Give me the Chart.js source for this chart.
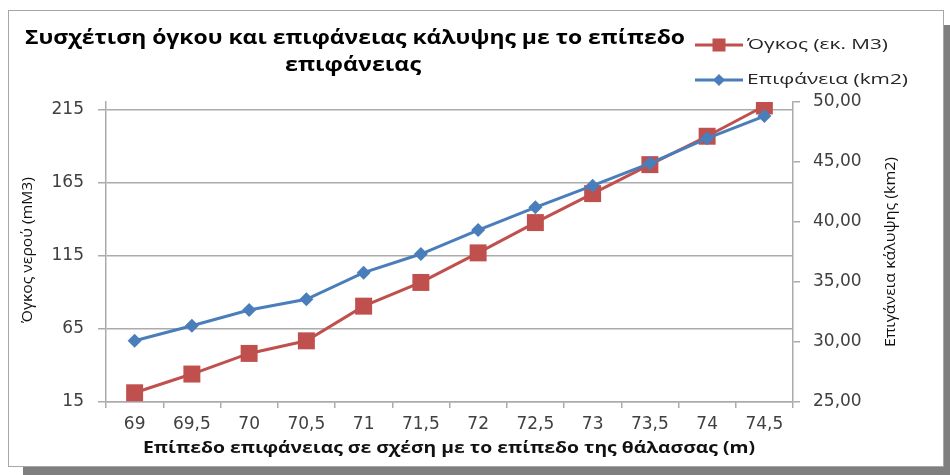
<!DOCTYPE html>
<html>
<head>
<meta charset="utf-8">
<script src="https://cdn.jsdelivr.net/npm/chart.js@4"></script>
<style>
  html, body { margin: 0; padding: 0; background: #fff; overflow: hidden; }
  #frame {
    position: absolute; left: 8px; top: 10px; width: 936px; height: 457px;
    box-sizing: border-box; border: 1px solid #a6a6a6; background: #fff;
    box-shadow: 15px 15px 0 #7f7f7f;
  }
  #chart { position: absolute; left: 0; top: 0; }
</style>
</head>
<body>
<div id="frame"></div>
<canvas id="chart" width="950" height="475"></canvas>
<script>
// water level above sea level (m)
const levels = ['69', '69,5', '70', '70,5', '71', '71,5', '72', '72,5', '73', '73,5', '74', '74,5'];
// volume, million m3 (left axis)
const volume = [21.3, 34.1, 48.2, 56.8, 80.5, 96.7, 116.9, 137.6, 157.4, 177.2, 196.6, 217.3];
// surface area, km2 (right axis)
const area = [30.1, 31.36, 32.67, 33.56, 35.78, 37.33, 39.33, 41.22, 43.03, 44.89, 46.97, 48.83];
const volumeTicks = [15, 65, 115, 165, 215];

const titleLines = ['Συσχέτιση όγκου και επιφάνειας κάλυψης με το επίπεδο', 'επιφάνειας'];
const xTitle = 'Επίπεδο επιφάνειας σε σχέση με το επίπεδο της θάλασσας (m)';
const yLeftTitle = 'Όγκος νερού (mM3)';
const yRightTitle = 'Επιγάνεια κάλυψης (km2)';
const volumeLabel = 'Όγκος (εκ. M3)';
const areaLabel = 'Επιφάνεια (km2)';

const RED = '#c0504d';
const BLUE = '#4a7ebb';
const GRID = '#ababab';
const TICK_FONT = { family: 'DejaVu Sans', size: 17 };

// text squeezed/stretched horizontally so it spans a given width
function fitText(ctx, text, cx, cy, width, font, color, angle) {
  ctx.save();
  ctx.font = font;
  ctx.fillStyle = color;
  ctx.textAlign = 'center';
  ctx.textBaseline = 'middle';
  const w = ctx.measureText(text).width;
  ctx.translate(cx, cy);
  if (angle) ctx.rotate(angle);
  ctx.scale(width / w, 1);
  ctx.fillText(text, 0, 0);
  ctx.restore();
}

const decorations = {
  id: 'decorations',
  afterDraw(chart) {
    const ctx = chart.ctx;
    fitText(ctx, titleLines[0], 355, 39, 660, 'bold 19px "Open Sans"', '#000');
    fitText(ctx, titleLines[1], 353, 66, 136, 'bold 19px "Open Sans"', '#000');
    fitText(ctx, xTitle, 449, 448, 612, 'bold 16px "Open Sans"', '#111');
    fitText(ctx, yLeftTitle, 28, 250, 146, '15px "Open Sans"', '#111', -Math.PI / 2);
    fitText(ctx, yRightTitle, 891, 252, 190, '15px "Open Sans"', '#111', -Math.PI / 2);

    // legend
    const items = [
      { text: volumeLabel, color: RED, y: 45, width: 141, marker: 'rect' },
      { text: areaLabel, color: BLUE, y: 80, width: 161, marker: 'diamond' }
    ];
    items.forEach(it => {
      ctx.save();
      ctx.strokeStyle = it.color;
      ctx.lineWidth = 3;
      ctx.beginPath();
      ctx.moveTo(695, it.y);
      ctx.lineTo(743, it.y);
      ctx.stroke();
      ctx.fillStyle = it.color;
      if (it.marker === 'rect') {
        ctx.fillRect(719 - 6.5, it.y - 6.5, 13, 13);
      } else {
        ctx.beginPath();
        ctx.moveTo(719, it.y - 6);
        ctx.lineTo(725, it.y);
        ctx.lineTo(719, it.y + 6);
        ctx.lineTo(713, it.y);
        ctx.closePath();
        ctx.fill();
      }
      ctx.restore();
      fitText(ctx, it.text, 747 + it.width / 2, it.y, it.width, '15px "Open Sans"', '#262626');
    });
  }
};

new Chart(document.getElementById('chart'), {
  type: 'line',
  data: {
    labels: levels,
    datasets: [
      {
        label: volumeLabel,
        data: volume,
        yAxisID: 'yVolume',
        borderColor: RED,
        backgroundColor: RED,
        borderWidth: 3,
        pointStyle: 'rect',
        pointRadius: 12,
        pointBorderWidth: 0,
        order: 2
      },
      {
        label: areaLabel,
        data: area,
        yAxisID: 'yArea',
        borderColor: BLUE,
        backgroundColor: BLUE,
        borderWidth: 3,
        pointStyle: 'rectRot',
        pointRadius: 7,
        pointBorderWidth: 0,
        order: 1
      }
    ]
  },
  options: {
    responsive: false,
    devicePixelRatio: 1,
    animation: false,
    layout: { padding: { top: 102, left: 0, right: 0, bottom: 0 } },
    plugins: {
      legend: { display: false },
      title: { display: false },
      tooltip: { enabled: false }
    },
    scales: {
      x: {
        type: 'category',
        offset: true,
        grid: { drawOnChartArea: false, offset: true, tickLength: 6, color: GRID, lineWidth: 1.5 },
        border: { color: GRID, width: 1.5 },
        ticks: { font: TICK_FONT, color: '#404040', padding: 6, maxRotation: 0, autoSkip: false },
        afterFit(scale) { scale.height = 73; }
      },
      yVolume: {
        type: 'linear',
        position: 'left',
        min: 15,
        max: 220,
        afterBuildTicks(scale) { scale.ticks = volumeTicks.map(v => ({ value: v })); },
        grid: { color: GRID, lineWidth: 1.5, tickLength: 8 },
        border: { color: GRID, width: 1.5 },
        ticks: { font: TICK_FONT, color: '#404040', padding: 14 },
        afterFit(scale) { scale.width = 106; }
      },
      yArea: {
        type: 'linear',
        position: 'right',
        min: 25,
        max: 50,
        grid: { drawOnChartArea: false, color: GRID, lineWidth: 1.5, tickLength: 7 },
        border: { color: GRID, width: 1.5 },
        ticks: {
          stepSize: 5,
          font: TICK_FONT,
          color: '#404040',
          padding: 13,
          callback: v => v.toFixed(2).replace('.', ',')
        },
        afterFit(scale) { scale.width = 157; }
      }
    }
  },
  plugins: [decorations]
});
</script>
</body>
</html>
